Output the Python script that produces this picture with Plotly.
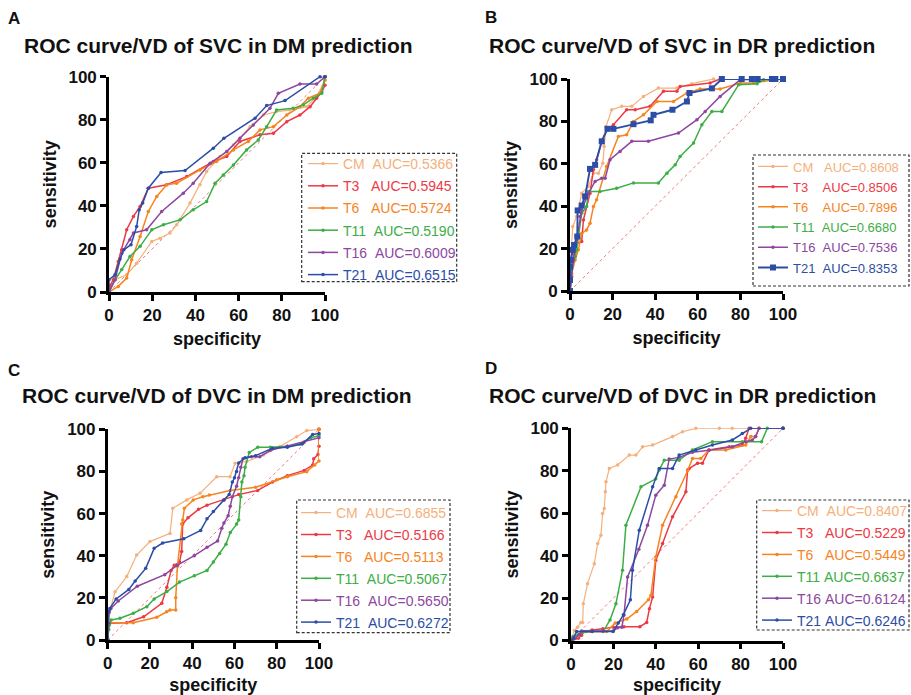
import plotly.graph_objects as go

W, H = 911, 695

# ---------------- data (specificity, sensitivity) ----------------
SERIES = ["CM", "T3", "T6", "T11", "T16", "T21"]

# Panel A: VD of SVC in DM prediction
A_CM = [(0,0),(2.8,5.7),(8.2,8),(12.8,13.4),(19.8,23.5),(23.6,25),(28.2,27.4),(31.3,31.2),(37.5,41.3),(42.1,49.8),(45.2,56),(51.4,62.9),(57.6,68.3),(65.3,76.8),(71.5,82.2),(77.6,83.8),(83.8,84.5),(91.5,86.1),(96.1,90.7),(100,98.5),(100,100)]
A_T3 = [(0,0),(0.5,3),(2,5.7),(4.3,14.2),(5.9,19.6),(8.2,28.9),(11.3,35.1),(14.4,39.7),(18.2,48.2),(26.7,49.8),(36,53.6),(48.3,60.6),(54.5,62.9),(60.6,69.9),(69.9,73),(76.1,73.7),(82.3,79.1),(88.4,82.2),(93.1,86.1),(96.1,90),(98.5,93),(100,96),(100,100)]
A_T6 = [(0,0),(4.3,2.6),(8.2,6.5),(10.5,15),(14.4,25.8),(18.2,37.4),(22.1,44.4),(26.7,49.8),(31.3,50.5),(42.1,56.7),(49.8,60.6),(57.6,66),(64.5,69.9),(69.9,75.3),(76.1,76.8),(82.3,82.2),(88.4,86.1),(92.3,90),(97.7,92.3),(100,98.5),(100,100)]
A_T11 = [(0,0),(2.8,5.7),(5.9,10.4),(9.7,16.5),(14.4,21.2),(19.8,28.9),(25.2,31.2),(32.9,33.5),(39,38.2),(45.2,42),(49.1,50.5),(52.9,54.4),(57.6,59),(63.7,66),(69.1,70.6),(73,76.8),(77.6,84.5),(85.3,85.3),(90,86.9),(94.6,90),(98.5,92.3),(100,100)]
A_T16 = [(0,0),(2.8,5.7),(5.9,18),(9.7,24.3),(11.3,27.4),(17.4,28.9),(24.4,37.4),(34.4,45.9),(39,50.5),(46.8,59.8),(54.5,65.2),(60.6,71.4),(66.8,77.6),(74.5,85.3),(78.4,92.3),(88.4,96.6),(96.1,96.6),(100,100)]
A_T21 = [(0,0),(0,5.7),(2.8,8),(5.1,15.3),(6.9,19.6),(10.2,22),(12.8,30.4),(14,38.2),(15.6,41.3),(18.2,48.2),(24.1,55.5),(35.2,56.4),(48.3,66.8),(53.2,71.4),(67.6,80.7),(73,86.6),(81.5,88.9),(97.7,100),(100,100)]
A_AUC = ["0.5366", "0.5945", "0.5724", "0.5190", "0.6009", "0.6515"]

# Panel B: VD of SVC in DR prediction
B_CM = [(0,0),(0.3,14.6),(1.3,30.4),(3.1,35.1),(5.5,46.1),(8.6,49.3),(11,55.6),(13.3,55.6),(15.4,60.3),(16,68.2),(16.9,77.6),(19.6,85.5),(24.3,87.1),(29,87.1),(34.5,91.8),(41.5,95.7),(50.2,95.7),(57.2,97.8),(67.4,100),(100,100)]
B_T3 = [(0,0),(0.8,6.8),(1.6,17.8),(3.1,22.5),(5.5,23.3),(6.3,33.5),(9.4,46.1),(11,57.2),(12.5,61.9),(14.9,70.6),(17.2,76.1),(20.4,78.4),(26.6,85.5),(30.6,85.5),(37.6,87.1),(43.9,94.2),(50.2,94.2),(51.7,96.5),(65.8,98.1),(70.5,100),(100,100)]
B_T6 = [(0,0),(0.8,8.3),(2.4,14.6),(3.9,19.4),(5.5,27.2),(7.8,28.8),(9.4,32),(11,39.8),(12.5,43),(17.2,58.7),(22.7,72.9),(26.6,73.7),(29.8,80),(34.5,83.1),(40.8,89.4),(48.6,89.4),(54.9,93.4),(61.1,95.3),(70.5,95.3),(79.9,98.1),(86.2,98.1),(94,99.4),(100,100)]
B_T11 = [(0,0),(0.8,11.5),(2.4,16.2),(3.1,19.4),(5.5,36.7),(7.8,39.8),(8.6,46.9),(14.1,46.9),(21.9,48.5),(29.8,51),(41.5,51),(45.5,55.6),(49.4,59.5),(51.7,63.5),(58,69.8),(61.9,78.4),(66.6,84.7),(71.3,84.7),(79.2,97.3),(87.8,97.8),(90.9,99.7),(100,100)]
B_T16 = [(0,0),(1.6,14.6),(3.1,24.1),(4.7,35.1),(5.5,38.3),(8.6,46.1),(11.8,51.7),(14.9,53.2),(16.5,53.2),(18.8,61.9),(23.5,65.8),(29,70.6),(36.8,70.6),(50.9,74.5),(59.6,80.8),(63.5,84.7),(70.5,91.8),(79.9,99.7),(100,100)]
B_T21 = [(0,0),(0,5.2),(0,11.5),(0.3,14.6),(1.3,19.4),(1.9,21.7),(3.4,25.7),(3.6,38),(5.5,40.3),(7.1,44.6),(9.4,57.6),(11.8,59.5),(14.9,70.6),(17.6,76.5),(20.4,76.5),(29.8,78.7),(37.9,80.5),(39.2,83.1),(48.1,85.5),(54.9,89.4),(56.1,93.4),(66.6,95.6),(71.3,100),(80.6,100),(85.4,100),(88.1,100),(94.8,100),(96.4,100),(100,100)]
B_AUC = ["0.8608", "0.8506", "0.7896", "0.6680", "0.7536", "0.8353"]

# Panel C: VD of DVC in DM prediction
C_CM = [(0,0),(0.5,7.9),(1.1,14.2),(3.5,22.9),(9,30.1),(13.7,40.3),(20,46.7),(29.5,50.6),(30.8,62.5),(37.4,66.5),(43.7,69.6),(51.6,77.5),(57.9,77.5),(60.3,83.9),(65.8,84.7),(73.7,87.8),(81.5,91.8),(89.4,96.5),(94.2,99.4),(99.7,100),(100,100)]
C_T3 = [(0,0),(0.5,7),(1,8),(9,8.2),(17,11),(25.6,17.4),(28,25),(30,33),(31.5,35.5),(34,37),(35,42),(35.5,55),(38,58),(43,62),(47,64),(55,66.5),(62,69),(71,71),(78,75),(85,78),(93,80.5),(97,83),(97.5,86),(99.5,88),(100,92),(100,100)]
C_T6 = [(0,0),(0.5,7),(1.1,8.2),(12.1,8.2),(23.2,10.8),(27.9,13.4),(29.5,14.2),(32.2,14.2),(32.2,20),(33,35),(35,55),(35.5,57),(36.3,62.5),(40.5,66.5),(45,68),(48.1,68.8),(58,71),(70,72.5),(80,76),(85,77.5),(94.2,79.9),(98,83),(100,85),(100,100)]
C_T11 = [(0,0),(0.5,5),(1.6,9.5),(5.8,10.3),(12.1,12.7),(18.5,15.8),(22,19.5),(28,23),(34,27.5),(41,30.5),(47,33),(50,37),(53,41),(56,45.5),(58,51),(61,55),(62,57),(63,68),(63.5,75),(64.5,78),(65,82),(67,89),(71,91.5),(77,91.5),(85,92),(91,93),(96,96),(100,97)]
C_T16 = [(0,0),(0.5,8),(0.6,13),(1.5,15),(5,18.5),(14,25.5),(27,31),(33,35.5),(41,40),(47,44),(52,47),(54,53),(55,55.5),(57,59),(58,63.5),(59,68),(61,73),(62,77),(63,82),(64,86),(68,87),(72,87),(77,90),(85,92),(93,94),(100,96)]
C_T21 = [(0,0),(0,8),(0.5,13.5),(1,15),(4,19.5),(10,24),(13,28),(18,34),(22,43.5),(26,46),(36,48),(44,52),(47,57.5),(50,61),(55,66.5),(57.5,69),(59,75),(60,77),(61,80),(62,84),(65,86.5),(70,87.5),(78,91),(85,91.5),(92,93),(97,97.5),(100,98)]
C_AUC = ["0.6855", "0.5166", "0.5113", "0.5067", "0.5650", "0.6272"]

# Panel D: VD of DVC in DR prediction
D_CM = [(0,0),(0.5,1.6),(1.6,4.7),(3.1,6.3),(4.7,8.5),(5.5,8.5),(5.8,17.3),(7.8,26.8),(11,36.2),(12.6,45.7),(14.1,49.6),(14.9,59.8),(15.7,62.2),(16.2,70.1),(16.5,74.8),(18.1,81.1),(22,82.7),(27.5,87.4),(30.6,87.4),(33.8,91.3),(38.5,92.1),(47.9,96.1),(52.6,98.4),(58.9,100),(70,100),(76,100),(100,100)]
D_T3 = [(0,0),(1,0.5),(3.5,1.1),(5,2.5),(6,4.2),(10,5),(15,5.5),(20,6.3),(25,6.5),(32.5,6.5),(35.7,8.5),(37,15),(38.5,20.5),(40,37.8),(43.2,45.7),(47.9,58.3),(54.2,70.1),(55,80.3),(55.8,81.1),(59.7,83.5),(62,83.5),(65.1,89.8),(74.6,91.3),(80.8,92.1),(82.4,95.3),(84,100),(100,100)]
D_T6 = [(0,0),(2.7,1.9),(5,4.2),(9,4.2),(16.8,4.2),(20.8,8.2),(26.3,10.1),(31,13.7),(36.5,19.2),(37.7,21.3),(40,39.4),(43.2,54.3),(49.5,67.7),(55,80),(57.3,85.8),(61.2,85.8),(65.1,89.8),(73,89.8),(82.4,92.1),(84.8,96.1),(87.1,96.1),(88.7,100),(100,100)]
D_T11 = [(0,0),(1.1,1.9),(3.5,2.7),(7.4,4.2),(15.2,4.2),(18.4,9.7),(21.2,17.3),(24.3,33.1),(25.9,54.3),(33,72.4),(40,76.2),(41.6,80.3),(44,85),(51,85),(57.3,89.8),(66.7,93.7),(80.8,93.7),(89.9,93.7),(92.6,100),(100,100)]
D_T16 = [(0,0),(2,1),(4,3),(5,4.5),(15,4.5),(20,4.5),(22,6),(24,6.3),(25,12),(26.7,29.9),(32,43),(36.1,54.3),(40,68.5),(44,73.2),(46.3,85.5),(51,86.3),(57.3,88.7),(65.1,89.6),(76.1,91.3),(82.4,93.7),(85.5,94.5),(87.1,96.1),(88.7,100),(100,100)]
D_T21 = [(0,0),(1,1),(2.7,4.2),(10,4.2),(19.8,4.2),(22.3,8.2),(24.7,12.1),(28,19.2),(29,33.1),(32.2,52),(38.5,72.4),(41.6,81.1),(47.9,81.1),(51,87.4),(58.9,89.8),(66.7,92.1),(76.1,94.5),(80.8,97.6),(84.8,100),(100,100)]
D_AUC = ["0.8407", "0.5229", "0.5449", "0.6637", "0.6124", "0.6246"]

TITLES = ["ROC curve/VD of SVC in DM prediction", "ROC curve/VD of SVC in DR prediction",
          "ROC curve/VD of DVC in DM prediction", "ROC curve/VD of DVC in DR prediction"]
LETTERS = ["A", "B", "C", "D"]
TICKS = [0, 20, 40, 60, 80, 100]

# ---------------- styling ----------------
COLORS = {"CM": "#F5B07C", "T3": "#EC3A45", "T6": "#F6841F", "T11": "#3DAE45", "T16": "#8E479F", "T21": "#2B4DA5"}
FONT = "Liberation Sans, Arial, Helvetica, sans-serif"

# pixel geometry for each panel
PANELS = [
    dict(x0=109, x1=325, yt=76.7, yb=292, title=(22, 45), letter=(14, 18),
         box=(301.7, 153.3, 456.7, 281.7), leg=(303, 148), lfont=14, gap=1.0,
         pad={"CM": 2, "T3": 3, "T6": 3, "T11": 2, "T16": 2, "T21": 2}),
    dict(x0=570, x1=783, yt=79, yb=291, title=(487, 45), letter=(491, 17),
         box=(753, 155, 909, 286), leg=(753, 151.5), lfont=13, gap=0.3,
         pad={"CM": 3, "T3": 4, "T6": 4, "T11": 2, "T16": 2, "T21": 2}),
    dict(x0=107.7, x1=319, yt=429.3, yb=640, title=(20, 395), letter=(14, 370),
         box=(296.7, 500, 450, 632.7), leg=(296, 497), lfont=14, gap=0.7,
         pad={"CM": 2, "T3": 3, "T6": 3, "T11": 2, "T16": 2, "T21": 2}),
    dict(x0=571, x1=783, yt=428.3, yb=640.5, title=(487, 395), letter=(491, 368),
         box=(756.7, 500, 909, 630), leg=(757, 495), lfont=14, gap=0.7,
         pad={"CM": 2, "T3": 3, "T6": 3, "T11": 1, "T16": 1, "T21": 1}),
]
DATA = [
    [A_CM, A_T3, A_T6, A_T11, A_T16, A_T21],
    [B_CM, B_T3, B_T6, B_T11, B_T16, B_T21],
    [C_CM, C_T3, C_T6, C_T11, C_T16, C_T21],
    [D_CM, D_T3, D_T6, D_T11, D_T16, D_T21],
]
AUCS = [A_AUC, B_AUC, C_AUC, D_AUC]

fig = go.Figure()
layout = dict(width=W, height=H, margin=dict(l=0, r=0, t=0, b=0, autoexpand=False),
              paper_bgcolor="white", plot_bgcolor="white",
              font=dict(family=FONT, color="black"), showlegend=True)
annotations = []
shapes = []

def px(xp):
    return xp / W

def py(yp):
    return 1 - yp / H

for i, p in enumerate(PANELS):
    n = "" if i == 0 else str(i + 1)
    xa, ya = "x" + n, "y" + n
    leg = "legend" + n
    axis_common = dict(range=[0, 100], tickvals=TICKS, showline=True, linecolor="black", linewidth=2.6,
                       ticks="outside", ticklen=6, tickwidth=2.6, tickcolor="black",
                       tickfont=dict(family=FONT, size=17, color="#111", weight="bold"),
                       showgrid=False, zeroline=False, fixedrange=True, automargin=False)
    layout["xaxis" + n] = dict(axis_common, domain=[px(p["x0"]), px(p["x1"])], anchor=ya,
                               title=dict(text="specificity", font=dict(family=FONT, size=18, color="#111", weight="bold"), standoff=9))
    layout["yaxis" + n] = dict(axis_common, domain=[py(p["yb"]), py(p["yt"])], anchor=xa,
                               title=dict(text="sensitivity", font=dict(family=FONT, size=18, color="#111", weight="bold"), standoff=8))
    # diagonal reference line
    fig.add_trace(go.Scatter(x=[0, 100], y=[0, 100], mode="lines", xaxis=xa, yaxis=ya,
                             line=dict(color="#F07A7A", width=1, dash="dot"), showlegend=False, hoverinfo="skip"))
    for s, pts, auc in zip(SERIES, DATA[i], AUCS[i]):
        c = COLORS[s]
        big = (i == 1 and s == "T21")
        name = f"<span style='color:{c}'>{s}{chr(160) * p['pad'][s]}AUC={auc}</span>"
        fig.add_trace(go.Scatter(
            x=[q[0] for q in pts], y=[q[1] for q in pts], mode="lines+markers",
            xaxis=xa, yaxis=ya, legend=leg, legendgroup=f"{LETTERS[i]}_{s}", name=name, cliponaxis=False,
            line=dict(color=c, width=1.9 if big else (1.2 if s == "CM" else 1.5)),
            marker=dict(color=c, size=6 if big else 3.5, symbol="square" if big else "circle"),
        ))
    bx0, by0, bx1, by1 = p["box"]
    lx0, ly0 = p["leg"]
    layout[leg] = dict(x=px(lx0), y=py(ly0), xanchor="left", yanchor="top",
                       bgcolor="rgba(0,0,0,0)", borderwidth=0,
                       font=dict(family=FONT, size=p["lfont"]), itemwidth=30, tracegroupgap=p["gap"])
    shapes.append(dict(type="rect", xref="paper", yref="paper", x0=px(bx0), x1=px(bx1), y0=py(by1), y1=py(by0),
                       line=dict(color="#333", width=1.2, dash="3px,2px")))
    tx, ty = p["title"]
    annotations.append(dict(text=f"<b>{TITLES[i]}</b>", x=px(tx), y=py(ty), xref="paper", yref="paper",
                            xanchor="left", yanchor="middle", showarrow=False,
                            font=dict(family=FONT, size=21, color="#111")))
    lx, ly = p["letter"]
    annotations.append(dict(text=f"<b>{LETTERS[i]}</b>", x=px(lx), y=py(ly), xref="paper", yref="paper",
                            xanchor="center", yanchor="middle", showarrow=False,
                            font=dict(family=FONT, size=17, color="#111")))

layout["annotations"] = annotations
layout["shapes"] = shapes
fig.update_layout(**layout)
fig.write_html("out.html", config={"displayModeBar": False},
               post_script="document.body.style.margin='0';document.body.style.overflow='hidden';")
